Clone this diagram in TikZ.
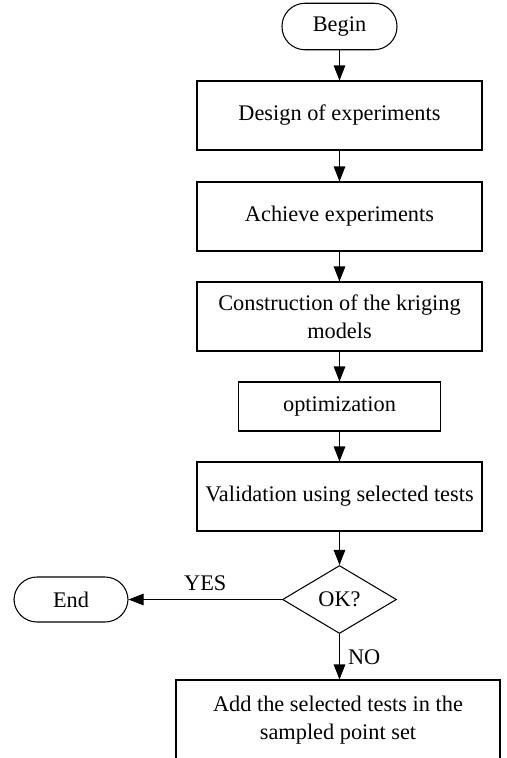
\documentclass[tikz,border=0pt]{standalone}
\usepackage{fontspec}
\setmainfont{Liberation Serif}
\usetikzlibrary{arrows.meta,shapes.geometric}

\begin{document}
\begin{tikzpicture}[x=0.2mm,y=-0.2mm,line width=0.6pt,>={Triangle[length=3mm,width=2.3mm]}]
\tikzstyle{every node}=[inner sep=0pt, align=center, font=\fontsize{12.7}{16}\selectfont]
\tikzstyle{term}=[draw, rounded corners=4.6mm, minimum width=23mm, minimum height=9.3mm]
\tikzstyle{proc}=[draw, rectangle, minimum width=57mm, minimum height=13.8mm]
\tikzstyle{test}=[draw, diamond, minimum width=22.8mm, minimum height=13.6mm]
\useasboundingbox (0,0) rectangle (507,758);
\draw (339.5,26.5) node (begin) [term] {Begin};
\draw (339.5,115.5) node (doe) [proc] {Design of experiments};
\draw (339.5,216.5) node (exp) [proc] {Achieve experiments};
\draw (339.5,316.5) node (krig) [proc] {Construction of the kriging\\models};
\draw (339.5,406.5) node (opt) [proc, minimum width=40.4mm, minimum height=9.8mm] {optimization};
\draw (339.5,496.5) node (valid) [proc] {Validation using selected tests};
\draw (339.5,599.5) node (ok) [test] {OK?};
\draw (71,599.5) node (end) [term, minimum width=22.8mm, minimum height=9mm] {End};
\draw (338,720) node (add) [proc, minimum width=64.8mm, minimum height=16mm] {Add the selected tests in the\\sampled point set};
\draw[->] (begin) -- (doe);
\draw[->] (doe) -- (exp);
\draw[->] (exp) -- (krig);
\draw[->] (krig) -- (opt);
\draw[->] (opt) -- (valid);
\draw[->] (valid) -- (ok);
\draw[->] (ok.west) -- node[above=1.7mm] {YES} (end.east);
\draw[->] (ok.south) -- node[right=1.6mm] {NO} (ok.south |- add.north);
\end{tikzpicture}
\end{document}
